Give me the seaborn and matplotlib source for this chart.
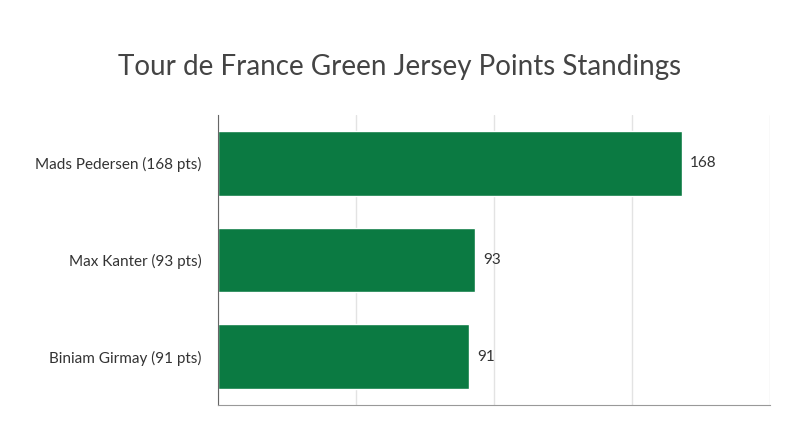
import matplotlib
matplotlib.use('Agg')
import matplotlib.pyplot as plt
import seaborn as sns
import pandas as pd

riders = ['Mads Pedersen (168 pts)', 'Max Kanter (93 pts)', 'Biniam Girmay (91 pts)']
points = [168, 93, 91]

df = pd.DataFrame({'rider': riders, 'points': points})

sns.set_style('white')
plt.rcParams['font.family'] = ['Lato', 'DejaVu Sans']

fig = plt.figure(figsize=(8, 4.47), dpi=100)
ax = fig.add_axes([0.2725, 0.094, 0.69, 0.649])

sns.barplot(data=df, x='points', y='rider', color='#0b7a42', saturation=1,
            width=0.67, ax=ax)

ax.set_xlim(0, 200)
ax.set_xticks([0, 50, 100, 150, 200])
ax.set_xticklabels([])
ax.tick_params(axis='x', length=0)
ax.tick_params(axis='y', length=0, labelsize=11, colors='#333333', pad=12)
ax.grid(axis='x', color='#e3e3e3', linewidth=1)
ax.set_axisbelow(True)
ax.set_xlabel('')
ax.set_ylabel('')
for s in ['top', 'right']:
    ax.spines[s].set_visible(False)
ax.spines['left'].set_color('#666666')
ax.spines['bottom'].set_color('#999999')

for i, v in enumerate(points):
    ax.text(v + 3, i, str(v), va='center', ha='left', fontsize=11, color='#333333')

fig.text(0.5, 0.85, 'Tour de France Green Jersey Points Standings',
         ha='center', va='center', fontsize=20, color='#444444')

fig.savefig('out.png', dpi=100, facecolor='white')
